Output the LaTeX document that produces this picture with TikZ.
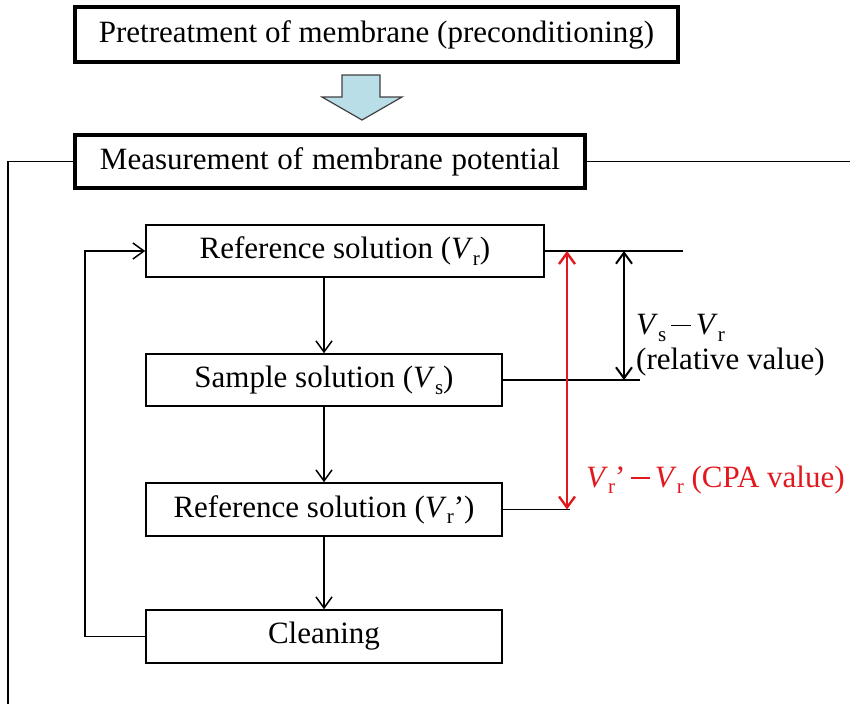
\documentclass[tikz,border=0pt]{standalone}
\usepackage{fontspec}
\setmainfont{Liberation Serif}
\usetikzlibrary{arrows.meta,calc}
\definecolor{arrowblue}{RGB}{185,222,232}
\definecolor{cpared}{RGB}{225,25,30}
\newcommand\mysub[1]{\raisebox{-0.22em}{\fontsize{21}{21}\selectfont #1}}
\newcommand\mymin{\,\rule[0.27em]{0.62em}{1.4pt}\,}
\begin{document}
\begin{tikzpicture}[x=1pt,y=-1pt,
  every node/.style={font=\fontsize{31}{34}\selectfont, inner sep=0pt},
  thickbox/.style={draw, line width=3.5pt},
  thinbox/.style={draw, line width=1.6pt},
  conn/.style={line width=1.5pt},
  vtip/.style={-{Straight Barb[length=11pt,width=16pt]}},
  dtip/.style={{Straight Barb[length=11pt,width=16pt]}-{Straight Barb[length=11pt,width=16pt]}}
]
\useasboundingbox (0,0) rectangle (850,704);
% top boxes
\node[thickbox, minimum width=603pt, minimum height=55pt] (pre) at (376.5,34.5) {Pretreatment of membrane (preconditioning)};
\node[thickbox, minimum width=510pt, minimum height=53pt] (meas) at (330,161.5) {Measurement\hspace{1pt} of\hspace{1pt} membrane\hspace{1pt} potential};
% block arrow
\coordinate (ba) at (362,75);
\draw[fill=arrowblue, draw=black!75, line width=1.2pt]
  ($(ba)+(-20,0)$) -- ($(ba)+(18,0)$) -- ($(ba)+(18,22)$) -- ($(ba)+(40,22)$)
  -- ($(ba)+(0,45)$) -- ($(ba)+(-40,22)$) -- ($(ba)+(-20,22)$) -- cycle;
% steps
\node[thinbox, minimum width=398pt, minimum height=52pt] (ref) at (345,251) {Reference solution (\textit{V}\mysub{r})};
\node[thinbox, minimum width=356pt, minimum height=52pt] (samp) at (324,380) {Sample solution (\textit{V}\mysub{s})};
\node[thinbox, minimum width=356pt, minimum height=53pt] (refp) at (324,509.5) {Reference solution (\textit{V}\mysub{r}’)};
\node[thinbox, minimum width=356pt, minimum height=53pt] (clean) at (324,636.5) {Cleaning};
% bracket lines
\coordinate (bl) at (8,704);
\coordinate (br) at (850,160);
\draw[conn] (meas.west) -| (bl);
\draw[conn] (meas.east) -- (meas.east -| br);
% flow arrows
\draw[conn, vtip] (samp.north |- ref.south) -- (samp.north);
\draw[conn, vtip] (samp.south) -- (refp.north);
\draw[conn, vtip] (refp.south) -- (clean.north);
\coordinate (fbx) at (85,0);
\draw[conn, vtip] (clean.west) -- (clean.west -| fbx) -- (ref.west -| fbx) -- (ref.west);
% level lines
\coordinate (l1) at (683,0);
\coordinate (l2) at (640,0);
\coordinate (l3) at (570,0);
\draw[conn] (ref.east) -- (ref.east -| l1);
\draw[conn] (samp.east) -- (samp.east -| l2);
\draw[conn] (refp.east) -- (refp.east -| l3);
% difference arrows
\coordinate (redx) at (567,0);
\coordinate (blkx) at (624,0);
\draw[line width=2.4pt, draw=cpared, dtip] (ref.east -| redx) -- (refp.east -| redx);
\draw[line width=2pt, dtip] (ref.east -| blkx) -- (samp.east -| blkx);
% labels
\node[anchor=north west, align=left, font=\fontsize{31}{35}\selectfont] (lbl1) at (636,314) {\textit{V}\mysub{s}\mymin\textit{V}\mysub{r}\\(relative value)};
\node[anchor=base west, text=cpared] (lbl3) at (586,487) {\textit{V}\mysub{r}’\mymin\textit{V}\mysub{r} (CPA value)};
\end{tikzpicture}
\end{document}
